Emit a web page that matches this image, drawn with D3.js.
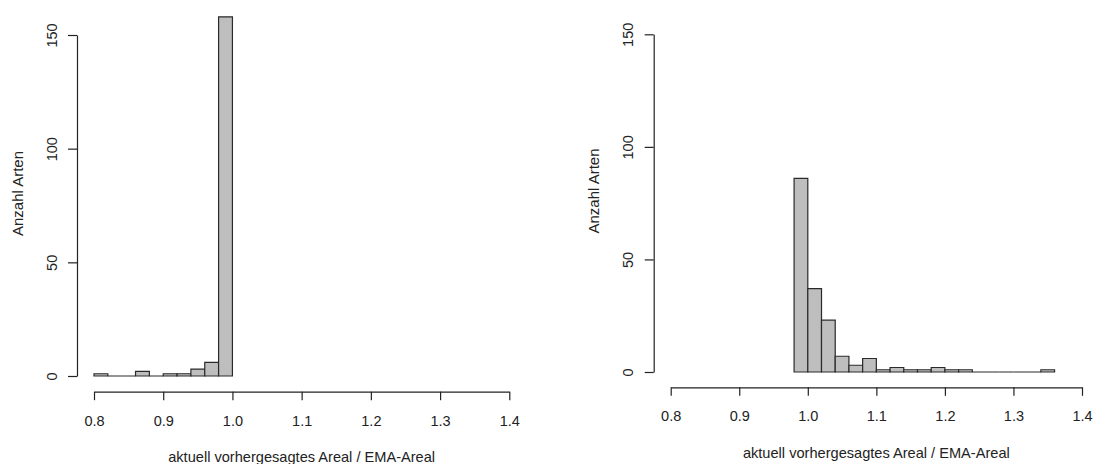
<html lang="de">
<head>
<meta charset="utf-8">
<title>Histogramme Areal-Verhältnis</title>
<script src="https://cdn.jsdelivr.net/npm/d3@7"></script>
<style>
body { margin: 0; background: #fff; }
svg text { font-family: "Liberation Sans", Arial, sans-serif; fill: #222; }
</style>
</head>
<body>
<script>
// bin starts (width 0.02) and counts
var leftBins = [0.80, 0.82, 0.84, 0.86, 0.88, 0.90, 0.92, 0.94, 0.96, 0.98];
var leftCounts = [1, 0, 0, 2, 0, 1, 1, 3, 6, 158];

var rightBins = [0.98, 1.00, 1.02, 1.04, 1.06, 1.08, 1.10, 1.12, 1.14, 1.16,
                 1.18, 1.20, 1.22, 1.24, 1.26, 1.28, 1.30, 1.32, 1.34];
var rightCounts = [86, 37, 23, 7, 3, 6, 1, 2, 1, 1, 2, 1, 1, 0, 0, 0, 0, 0, 1];

var binWidth = 0.02;
var xTicks = [0.8, 0.9, 1.0, 1.1, 1.2, 1.3, 1.4];
var yTicks = [0, 50, 100, 150];
var xTitle = "aktuell vorhergesagtes Areal / EMA-Areal";
var yTitle = "Anzahl Arten";

var w = 1093, h = 464;

var svg = d3.select("body").append("svg")
  .attr("width", w)
  .attr("height", h);

function drawPanel(bins, counts, p) {
  var x = d3.scaleLinear().domain([0.8, 1.4]).range([p.x0, p.x1]);
  var y = d3.scaleLinear().domain([0, 150]).range([p.yBase, p.yTop]);

  var g = svg.append("g");

  // bars as closed paths, so empty bins still show as a line on the base
  g.selectAll("path.bar")
    .data(counts)
    .enter()
    .append("path")
    .attr("class", "bar")
    .attr("d", function(d, i) {
      var a = x(bins[i]), b = x(bins[i] + binWidth);
      return "M" + a + "," + y(0) + "V" + y(d) + "H" + b + "V" + y(0) + "Z";
    })
    .attr("fill", "#bebebe")
    .attr("stroke", "#2a2a2a")
    .attr("stroke-width", 1.2);

  // x axis
  var xAxis = d3.axisBottom(x)
    .tickValues(xTicks)
    .tickFormat(d3.format(".1f"))
    .tickSizeInner(8.5)
    .tickSizeOuter(0);
  var xg = g.append("g")
    .attr("transform", "translate(0," + p.xAxisY + ")")
    .call(xAxis);
  xg.selectAll("path, line").attr("stroke", "#222").attr("stroke-width", 1.2);
  xg.selectAll("text")
    .attr("y", p.xLabelDy)
    .attr("dy", 0)
    .attr("font-size", "14.5px");

  // y axis
  var yAxis = d3.axisLeft(y)
    .tickValues(yTicks)
    .tickSizeInner(9)
    .tickSizeOuter(0);
  var yg = g.append("g")
    .attr("transform", "translate(" + p.yAxisX + ",0)")
    .call(yAxis);
  yg.selectAll("path, line").attr("stroke", "#222").attr("stroke-width", 1.2);
  yg.selectAll("text")
    .attr("x", 0)
    .attr("dy", 0)
    .attr("text-anchor", "middle")
    .attr("font-size", "14.5px")
    .attr("transform", "translate(-20.5,0) rotate(-90)");

  // axis titles
  g.append("text")
    .attr("x", (p.x0 + p.x1) / 2)
    .attr("y", p.xTitleY)
    .attr("text-anchor", "middle")
    .attr("font-size", "14.6px")
    .text(xTitle);

  g.append("text")
    .attr("transform", "translate(" + p.yTitleX + "," + p.yTitleY + ") rotate(-90)")
    .attr("text-anchor", "middle")
    .attr("font-size", "15px")
    .text(yTitle);
}

drawPanel(leftBins, leftCounts, {
  x0: 94, x1: 509.3, yBase: 376, yTop: 35,
  xAxisY: 391.7, xLabelDy: 34, yAxisX: 77,
  xTitleY: 462, yTitleX: 22.5, yTitleY: 193.5
});

drawPanel(rightBins, rightCounts, {
  x0: 670.7, x1: 1082, yBase: 372, yTop: 34.3,
  xAxisY: 387.3, xLabelDy: 33.5, yAxisX: 653.7,
  xTitleY: 457.5, yTitleX: 599, yTitleY: 191
});
</script>
</body>
</html>
